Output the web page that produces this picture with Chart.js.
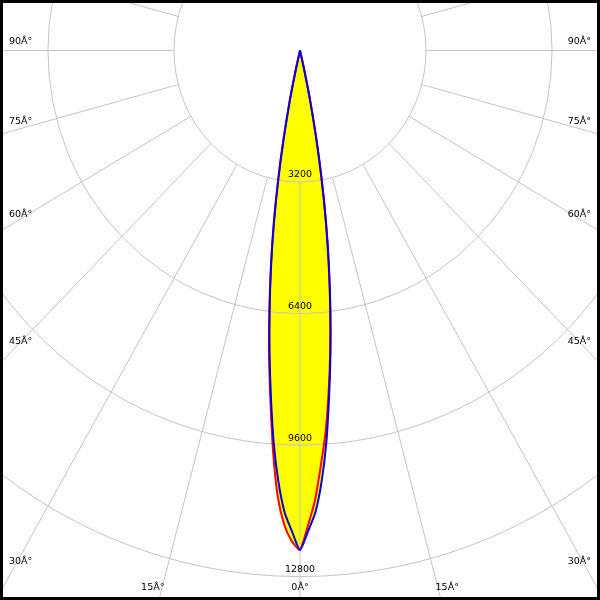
<!DOCTYPE html>
<html>
<head>
<meta charset="utf-8">
<script src="https://cdn.jsdelivr.net/npm/chart.js@4"></script>
<style>
body { margin: 0; background: #fff; }
#wrap { width: 600px; height: 600px; }
</style>
</head>
<body>
<div id="wrap"><canvas id="chart" width="600" height="600"></canvas></div>
<script>
// angles in degrees, 0 = straight down
const angles = [-14, -13, -12, -11, -10, -9, -8, -7, -6, -5, -4, -3, -2, -1, 0,
    1, 2, 3, 4, 5, 6, 7, 8, 9, 10, 11, 12, 13, 14];
const redValues = [0, 460, 1290, 2190, 3200, 4270, 5320, 6390, 7500, 8590, 9790, 10850, 11540, 11940, 12150,
    11560, 10950, 10110, 9310, 8340, 7340, 6280, 5220, 4170, 3100, 2090, 1190, 400, 0];
const blueValues = [0, 430, 1240, 2140, 3150, 4220, 5270, 6330, 7400, 8470, 9570, 10500, 11240, 11700, 12150,
    11700, 11240, 10500, 9570, 8470, 7400, 6330, 5270, 4220, 3150, 2140, 1240, 430, 0];
const ringValues = [3200, 6400, 9600, 12800];
const spokeAngles = [0, 15, 30, 45, 60, 75, 90, 105, 120, 135, 150, 165, 180,
    195, 210, 225, 240, 255, 270, 285, 300, 315, 330, 345];
const sideLabels = [90, 75, 60, 45, 30];
const bottomLabels = [-15, 0, 15];

const rad = d => d * Math.PI / 180;
const toPoints = values => values.map((v, i) => ({
    x: v * Math.sin(rad(angles[i])),
    y: -v * Math.cos(rad(angles[i]))
}));
const envelope = redValues.map((v, i) => Math.max(v, blueValues[i]));
const degText = a => Math.abs(a) + 'Â°';

const polarGrid = {
    id: 'polarGrid',
    afterDatasetDraw(chart, args) {
        if (args.index !== 2) return;
        const {ctx, chartArea} = chart;
        const xs = chart.scales.x, ys = chart.scales.y;
        const cx = xs.getPixelForValue(0), cy = ys.getPixelForValue(0);
        ctx.save();
        ctx.beginPath();
        ctx.rect(chartArea.left, chartArea.top, chartArea.width, chartArea.height);
        ctx.clip();
        ctx.strokeStyle = '#c4c4c4';
        ctx.lineWidth = 1;
        ringValues.forEach(r => {
            ctx.beginPath();
            ctx.ellipse(cx, cy, xs.getPixelForValue(r) - cx, ys.getPixelForValue(-r) - cy, 0, 0, Math.PI * 2);
            ctx.stroke();
        });
        spokeAngles.forEach(a => {
            const s = Math.sin(rad(a)), c = Math.cos(rad(a));
            ctx.beginPath();
            ctx.moveTo(xs.getPixelForValue(ringValues[0] * s), ys.getPixelForValue(-ringValues[0] * c));
            ctx.lineTo(xs.getPixelForValue(30000 * s), ys.getPixelForValue(-30000 * c));
            ctx.stroke();
        });
        ctx.restore();
    },
    afterDraw(chart) {
        const {ctx, chartArea} = chart;
        const xs = chart.scales.x, ys = chart.scales.y;
        const cx = xs.getPixelForValue(0), cy = ys.getPixelForValue(0);
        const halfW = chartArea.right - cx;
        const down = chartArea.bottom - cy;
        ctx.save();
        ctx.fillStyle = '#000';
        ctx.font = '9.5px "DejaVu Sans"';
        ctx.textBaseline = 'middle';
        ctx.textAlign = 'center';
        ringValues.forEach(r => {
            ctx.fillText(String(r), cx, ys.getPixelForValue(-r) - 7);
        });
        sideLabels.forEach(a => {
            const y = cy + halfW / Math.tan(rad(a)) - 9;
            ctx.textAlign = 'left';
            ctx.fillText(degText(a), chartArea.left + 9, y);
            ctx.textAlign = 'right';
            ctx.fillText(degText(a), chartArea.right - 9, y);
        });
        ctx.textAlign = 'center';
        bottomLabels.forEach(a => {
            const x = cx + down * Math.tan(rad(a));
            ctx.fillText(degText(a), x, chartArea.bottom - 12);
        });
        ctx.strokeStyle = '#000';
        ctx.lineWidth = 3;
        ctx.strokeRect(1.5, 1.5, 597, 597);
        ctx.restore();
    }
};

new Chart(document.getElementById('chart'), {
    type: 'line',
    data: {
        datasets: [{
            data: toPoints(blueValues),
            borderColor: '#0000dd',
            borderWidth: 2,
            fill: false
        }, {
            data: toPoints(redValues),
            borderColor: '#ff0000',
            borderWidth: 2,
            fill: false
        }, {
            data: toPoints(envelope),
            borderWidth: 0,
            borderColor: 'rgba(0,0,0,0)',
            backgroundColor: '#ffff00',
            fill: 'shape'
        }]
    },
    options: {
        responsive: false,
        animation: false,
        layout: { padding: 0 },
        elements: { point: { radius: 0 }, line: { tension: 0.2 } },
        scales: {
            x: { type: 'linear', min: -7618, max: 7618, display: false },
            y: { type: 'linear', min: -13370, max: 1229, display: false }
        },
        plugins: { legend: { display: false }, tooltip: { enabled: false } }
    },
    plugins: [polarGrid]
});
</script>
</body>
</html>
